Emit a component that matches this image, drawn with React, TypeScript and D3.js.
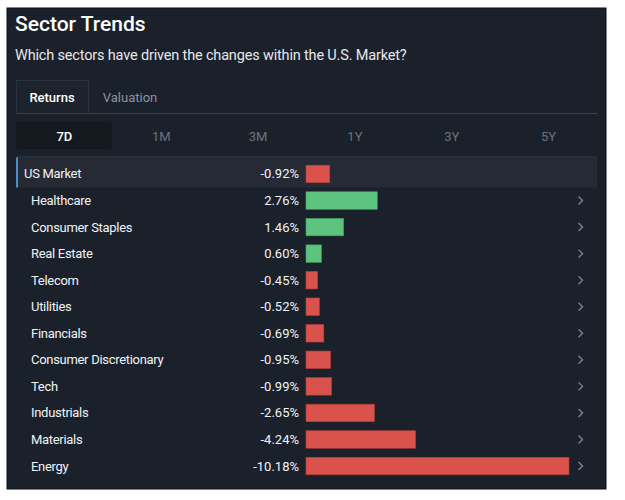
import React from "react";
import * as d3 from "d3";

const sectors = [
  "US Market",
  "Healthcare",
  "Consumer Staples",
  "Real Estate",
  "Telecom",
  "Utilities",
  "Financials",
  "Consumer Discretionary",
  "Tech",
  "Industrials",
  "Materials",
  "Energy",
];
const returns7D = [-0.92, 2.76, 1.46, 0.6, -0.45, -0.52, -0.69, -0.95, -0.99, -2.65, -4.24, -10.18];
const mainTabs = ["Returns", "Valuation"];
const periods = ["7D", "1M", "3M", "1Y", "3Y", "5Y"];

const FONT = "Roboto, 'Noto Sans', sans-serif";
const BG = "#1b212b";
const RED = "#d9534c";
const GREEN = "#5dc47f";

export default function App() {
  const W = 625;
  const H = 500;
  const left = 16;
  const right = 597;

  const y = d3
    .scaleBand<string>()
    .domain(sectors)
    .range([160.7, 479.3])
    .paddingInner(0.34)
    .paddingOuter(0.17);

  const maxAbs = d3.max(returns7D, (v) => Math.abs(v)) as number;
  const x = d3.scaleLinear().domain([0, maxAbs]).range([306, 569]);

  const px = d3.scaleBand<string>().domain(periods).range([left, right]);
  const fmt = d3.formatLocale({ decimal: ".", thousands: ",", grouping: [3], currency: ["", ""], minus: "-" }).format(".2f");

  const bw = y.bandwidth();

  return (
    <svg
      width={W}
      height={H}
      style={{ position: "absolute", left: 0, top: 0, display: "block", background: "#fff" }}
      fontFamily={FONT}
    >
      <rect x={7} y={8} width={599} height={481} fill={BG} stroke="#0d1117" strokeWidth={1} />
      <text x={15} y={31} fill="#ffffff" fontSize={21} fontWeight={500}>
        Sector Trends
      </text>
      <text x={15} y={60} fill="#e6e8eb" fontSize={14.5} letterSpacing={-0.17}>
        Which sectors have driven the changes within the U.S. Market?
      </text>

      {/* main tabs */}
      <rect x={16.5} y={80.5} width={72} height={33} fill="#1d232d" stroke="#2c333e" strokeWidth={1} />
      <line x1={left} x2={right} y1={113.5} y2={113.5} stroke="#3a414c" strokeWidth={1} />
      {mainTabs.map((t, i) => (
        <text
          key={t}
          x={i === 0 ? 52 : 130}
          y={102}
          textAnchor="middle"
          fontSize={13}
          fontWeight={i === 0 ? 500 : 400}
          fill={i === 0 ? "#ffffff" : "#8d939c"}
        >
          {t}
        </text>
      ))}

      {/* period selector */}
      <rect x={px("7D")!} y={122} width={px.bandwidth() - 1} height={27} rx={3} fill="#141920" />
      {periods.map((p, i) => (
        <text
          key={p}
          x={px(p)! + px.bandwidth() / 2}
          y={140.5}
          textAnchor="middle"
          fontSize={13}
          fontWeight={i === 0 ? 500 : 400}
          fill={i === 0 ? "#ffffff" : "#6c727c"}
        >
          {p}
        </text>
      ))}
      <line x1={left} x2={right} y1={157} y2={157} stroke="#39404b" strokeWidth={1} />

      {/* highlight row */}
      <rect x={left} y={157.5} width={right - left} height={30} fill="#252a35" />
      <rect x={left} y={157.5} width={2} height={30} fill="#4d8fc4" />

      {sectors.map((s, i) => {
        const v = returns7D[i];
        const cy = y(s)! + bw / 2;
        const isMarket = i === 0;
        return (
          <g key={s}>
            <text x={isMarket ? 24 : 31} y={cy + 4.5} fontSize={13} letterSpacing={-0.3} fill="#f1f2f4">
              {s}
            </text>
            <text x={299} y={cy + 4.5} fontSize={13} textAnchor="end" fill="#f1f2f4">
              {fmt(v) + "%"}
            </text>
            <rect
              x={x(0)}
              y={y(s)!}
              width={x(Math.abs(v)) - x(0)}
              height={bw}
              fill={v >= 0 ? GREEN : RED}
              stroke={v >= 0 ? "#3f9a5c" : "#b03f3a"}
              strokeWidth={0.6}
            />
            {!isMarket && (
              <path
                d={`M ${578.5} ${cy - 4} L ${582.5} ${cy} L ${578.5} ${cy + 4}`}
                fill="none"
                stroke="#7d838d"
                strokeWidth={1.4}
              />
            )}
          </g>
        );
      })}
    </svg>
  );
}
